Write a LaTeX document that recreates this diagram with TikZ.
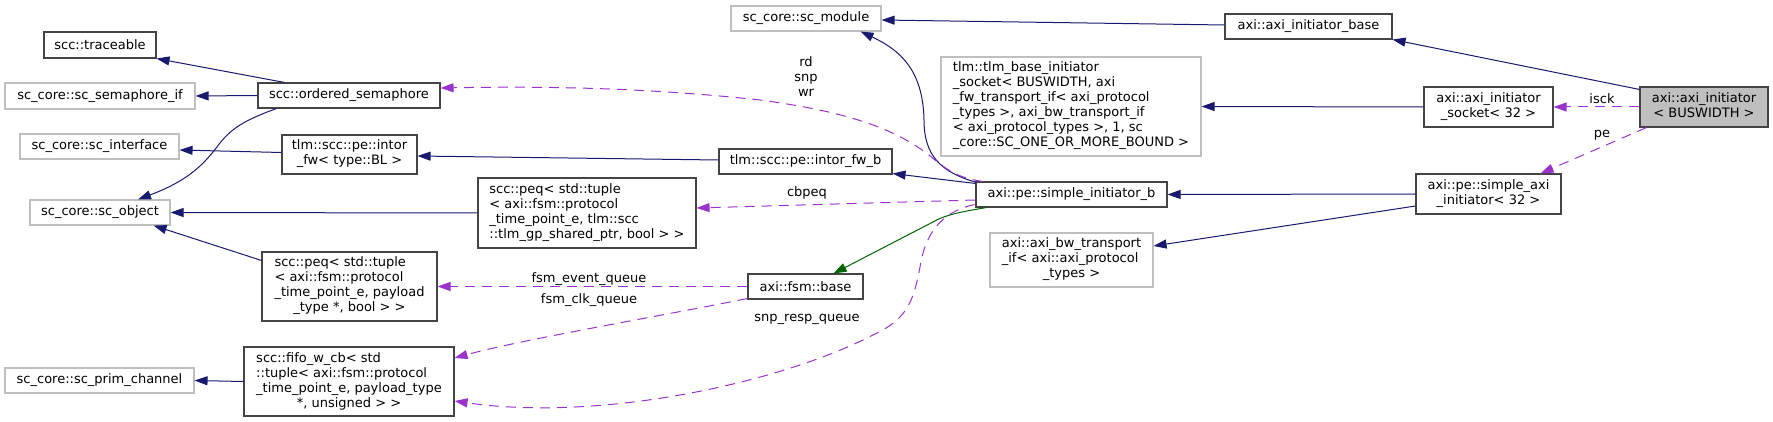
\documentclass[tikz,border=0pt]{standalone}
\usepackage{fontspec}
\setmainfont{DejaVu Sans}
\usetikzlibrary{arrows.meta,calc}
\definecolor{navy}{HTML}{191970}
\definecolor{dgreen}{HTML}{006400}
\definecolor{orchid}{HTML}{9A32CD}
\definecolor{grayb}{HTML}{BFBFBF}
\definecolor{boxb}{HTML}{444444}
\newcommand{\mlines}[2]{\begin{tabular}{@{}l@{}}#1\\\multicolumn{1}{@{}c@{}}{#2}\end{tabular}}
\begin{document}
\begin{tikzpicture}[x=1pt,y=-1pt,
  font=\fontsize{13}{15}\selectfont,
  cls/.style={draw=boxb, line width=1.1pt, fill=white, inner sep=0pt, align=center},
  ext/.style={draw=grayb, line width=1.1pt, fill=white, inner sep=0pt, align=center},
  tipx/.style={-{Triangle[length=13pt,width=9pt]}},
  inh/.style={draw=navy, line width=1pt, tipx},
  prot/.style={draw=dgreen, line width=1pt, tipx},
  use/.style={draw=orchid, line width=1pt, dash pattern=on 10pt off 7pt, tipx},
  lbl/.style={inner sep=0pt, align=center}]
\useasboundingbox (0,0) rectangle (1773,422);

\node[cls, minimum width=112pt, minimum height=26pt] (trace) at (100,45) {scc::traceable};
\node[ext, minimum width=190pt, minimum height=26pt] (semif) at (100,96) {sc\_core::sc\_semaphore\_if};
\node[cls, minimum width=182pt, minimum height=25pt] (osem) at (349,95.5) {scc::ordered\_semaphore};
\node[ext, minimum width=159pt, minimum height=25pt] (iface) at (99.5,146.5) {sc\_core::sc\_interface};
\node[cls, minimum width=135pt, minimum height=39pt] (intorfw) at (349.5,154.5) {\mlines{tlm::scc::pe::intor}{\_fw< type::BL >}};
\node[ext, minimum width=140pt, minimum height=25pt] (obj) at (100,212.5) {sc\_core::sc\_object};
\node[cls, minimum width=175pt, minimum height=69pt] (peqp) at (349.5,286.5) {\mlines{scc::peq< std::tuple\\< axi::fsm::protocol\\\_time\_point\_e, payload}{\_type *, bool > >}};
\node[ext, minimum width=189pt, minimum height=25pt] (prim) at (99.5,380.5) {sc\_core::sc\_prim\_channel};
\node[cls, minimum width=210pt, minimum height=69pt] (fifo) at (349,381.5) {\mlines{scc::fifo\_w\_cb< std\\::tuple< axi::fsm::protocol\\\_time\_point\_e, payload\_type}{*, unsigned > >}};
\node[ext, minimum width=150pt, minimum height=25pt] (module) at (806,18.5) {sc\_core::sc\_module};
\node[cls, minimum width=173pt, minimum height=25pt] (intorfwb) at (805.5,161.5) {tlm::scc::pe::intor\_fw\_b};
\node[cls, minimum width=218pt, minimum height=70pt] (peqt) at (587,213) {\mlines{scc::peq< std::tuple\\< axi::fsm::protocol\\\_time\_point\_e, tlm::scc}{::tlm\_gp\_shared\_ptr, bool > >}};
\node[cls, minimum width=115pt, minimum height=25pt] (fsmbase) at (805.5,286.5) {axi::fsm::base};
\node[cls, minimum width=167pt, minimum height=25pt] (base) at (1308.5,26.5) {axi::axi\_initiator\_base};
\node[ext, minimum width=260pt, minimum height=99pt] (tlmbase) at (1071,106.5) {\mlines{tlm::tlm\_base\_initiator\\\_socket< BUSWIDTH, axi\\\_fw\_transport\_if< axi\_protocol\\\_types >, axi\_bw\_transport\_if\\< axi\_protocol\_types >, 1, sc}{\_core::SC\_ONE\_OR\_MORE\_BOUND >}};
\node[cls, minimum width=191pt, minimum height=25pt] (sib) at (1071.5,194.5) {axi::pe::simple\_initiator\_b};
\node[ext, minimum width=163pt, minimum height=54pt] (bwif) at (1071.5,260) {\mlines{axi::axi\_bw\_transport\\\_if< axi::axi\_protocol}{\_types >}};
\node[cls, minimum width=129pt, minimum height=40pt] (socket) at (1488.5,107) {\mlines{axi::axi\_initiator}{\_socket< 32 >}};
\node[cls, fill=grayb, minimum width=128pt, minimum height=40pt] (init) at (1704,107) {\mlines{axi::axi\_initiator}{< BUSWIDTH >}};
\node[cls, minimum width=145pt, minimum height=40pt] (sai) at (1488.5,194) {\mlines{axi::pe::simple\_axi}{\_initiator< 32 >}};

% inheritance
\draw[inh] ($(osem.north west)+(27,0)$) -- (trace.south east);
\draw[inh] (osem.west) -- (semif.east);
\draw[inh] ($(osem.south west)+(19,0)$) .. controls (245,120) and (232,128) .. (220,143) .. controls (205,163) and (190,180) .. ($(obj.north)+(38,0)$);
\draw[inh] ($(intorfw.west)+(0,-2)$) -- ($(iface.east)+(0,3.5)$);
\draw[inh] ($(intorfwb.west)+(0,-1.5)$) -- ($(intorfw.east)+(0,1.5)$);
\draw[inh] ($(sib.north west)+(1,1)$) .. controls (940,172) and (924,155) .. (924,120) .. controls (923,70) and (900,50) .. ($(module.south east)+(-21,0)$);
\draw[inh] ($(sib.north west)+(0,2)$) -- ($(intorfwb.south east)+(0,-1)$);
\draw[inh] ($(base.west)+(0,-1.5)$) -- ($(module.east)+(0,1.5)$);
\draw[inh] ($(init.north west)+(0,3)$) -- (base.south east);
\draw[inh] (socket.west) -- (tlmbase.east);
\draw[inh] (sai.west) -- (sib.east);
\draw[inh] ($(sai.west)+(0,12)$) -- ($(bwif.east)+(0,-14)$);
\draw[inh] (peqt.west) -- (obj.east);
\draw[inh] ($(peqp.north west)+(0,9)$) -- ($(obj.south east)+(-17,0)$);
\draw[inh] (fifo.west) -- (prim.east);
\draw[prot] ($(sib.south west)+(11,0)$) .. controls (960,212) and (945,215) .. (933,222) -- ($(fsmbase.north east)+(-30,0)$);

% usage
\draw[use] (init.west) -- (socket.east);
\draw[use] ($(init.south west)+(7,0)$) -- ($(sai.north east)+(-21,0)$);
\draw[use] ($(sib.north west)+(7,0)$) .. controls (960,178) and (950,172) .. (935,160) .. controls (900,130) and (850,112) .. (760,100) .. controls (650,88) and (550,86) .. ($(osem.east)+(0,-7.5)$);
\draw[use] ($(sib.west)+(0,5.5)$) -- ($(peqt.east)+(0,-5)$);
\draw[use] ($(sib.south west)+(-1,-3)$) .. controls (940,212) and (925,235) .. (920,267) .. controls (913,305) and (905,320) .. (873,335) .. controls (780,383) and (600,422) .. ($(fifo.east)+(0,19.5)$);
\draw[use] (fsmbase.west) -- (peqp.east);
\draw[use] ($(fsmbase.south west)+(0,-1)$) .. controls (650,318) and (520,340) .. ($(fifo.east)+(0,-23.5)$);

% labels
\node[lbl] (lrd) at (806,77) {rd\\snp\\wr};
\node[lbl] (lcb) at (807,193) {cbpeq};
\node[lbl] (lfe) at (589,279) {fsm\_event\_queue};
\node[lbl] (lfc) at (589,300) {fsm\_clk\_queue};
\node[lbl] (lsr) at (807,319) {snp\_resp\_queue};
\node[lbl] (lis) at (1602,99) {isck};
\node[lbl] (lpe) at (1602,135) {pe};
\end{tikzpicture}
\end{document}
